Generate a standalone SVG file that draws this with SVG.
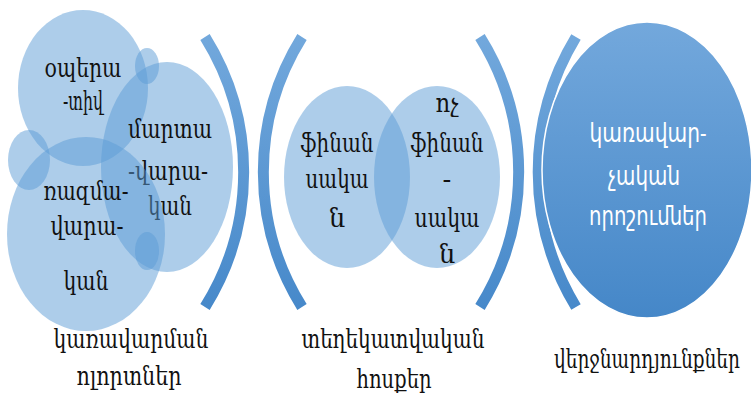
<svg xmlns="http://www.w3.org/2000/svg" width="751" height="397" viewBox="0 0 751 397">
<defs>
<linearGradient id="arcG" x1="0" y1="0" x2="0" y2="1">
<stop offset="0" stop-color="#72a8dc"/>
<stop offset="1" stop-color="#4789ca"/>
</linearGradient>
<linearGradient id="bigG" gradientUnits="userSpaceOnUse" x1="0" y1="22" x2="0" y2="318">
<stop offset="0" stop-color="#73a8dc"/>
<stop offset="1" stop-color="#4587c8"/>
</linearGradient>
<style>
.bub{fill:#5b9bd5;fill-opacity:0.5}
.arc{fill:none;stroke:url(#arcG);stroke-width:11;stroke-linecap:butt}
.t{font-family:"DejaVu Serif","Noto Sans",serif;font-size:26px;fill:#111;text-anchor:middle}
.w{font-family:"Noto Sans","DejaVu Sans",sans-serif;font-size:26px;fill:#fff;text-anchor:middle}
</style>
</defs>
<rect width="751" height="397" fill="#fff"/>
<g id="connectors">
<path class="arc" d="M205,37 A255,255 0 0 1 205,307"/>
<path class="arc" d="M302,37 A255,255 0 0 0 302,307"/>
<path class="arc" d="M480,37 A255,255 0 0 1 480,307"/>
<path class="arc" d="M576,37 A260,260 0 0 0 576,307"/>
</g>
<g id="node-operativ">
<ellipse class="bub" cx="83" cy="88" rx="65" ry="78"/>
<text class="t" x="83" y="77" textLength="77" lengthAdjust="spacingAndGlyphs">օպերա</text>
<text class="t" x="83" y="110" textLength="40" lengthAdjust="spacingAndGlyphs">-տիվ</text>
</g>
<g id="node-small1"><ellipse class="bub" cx="147" cy="66" rx="12" ry="18"/></g>
<g id="node-small2"><ellipse class="bub" cx="29" cy="160" rx="21" ry="30"/></g>
<g id="node-martavarakan">
<ellipse class="bub" cx="167" cy="167" rx="66" ry="105"/>
<text class="t" x="170" y="138" textLength="84" lengthAdjust="spacingAndGlyphs">մարտա</text>
<text class="t" x="168" y="180" textLength="80" lengthAdjust="spacingAndGlyphs">-վարա-</text>
<text class="t" x="170" y="215" textLength="44" lengthAdjust="spacingAndGlyphs">կան</text>
</g>
<g id="node-razmavarakan">
<ellipse class="bub" cx="86" cy="234" rx="79" ry="97"/>
<text class="t" x="86" y="200" textLength="85" lengthAdjust="spacingAndGlyphs">ռազմա-</text>
<text class="t" x="87" y="235" textLength="73" lengthAdjust="spacingAndGlyphs">վարա-</text>
<text class="t" x="86" y="290" textLength="45" lengthAdjust="spacingAndGlyphs">կան</text>
</g>
<g id="node-small3"><ellipse class="bub" cx="147" cy="251" rx="12" ry="19"/></g>
<g id="label-left">
<text class="t" x="131" y="348" textLength="155" lengthAdjust="spacingAndGlyphs">կառավարման</text>
<text class="t" x="129" y="385" textLength="105" lengthAdjust="spacingAndGlyphs">ոլորտներ</text>
</g>
<g id="node-finansakan">
<ellipse class="bub" cx="347" cy="177" rx="63" ry="91"/>
<text class="t" x="337" y="152" textLength="73" lengthAdjust="spacingAndGlyphs">ֆինան</text>
<text class="t" x="337" y="188" textLength="63" lengthAdjust="spacingAndGlyphs">սակա</text>
<text class="t" x="337" y="227">ն</text>
</g>
<g id="node-vochfinansakan">
<ellipse class="bub" cx="437" cy="177" rx="63" ry="91"/>
<text class="t" x="447" y="112" textLength="23" lengthAdjust="spacingAndGlyphs">ոչ</text>
<text class="t" x="447" y="152" textLength="73" lengthAdjust="spacingAndGlyphs">ֆինան</text>
<text class="t" x="447" y="188">-</text>
<text class="t" x="447" y="227" textLength="65" lengthAdjust="spacingAndGlyphs">սակա</text>
<text class="t" x="447" y="263">ն</text>
</g>
<g id="label-middle">
<text class="t" x="393" y="348" textLength="183" lengthAdjust="spacingAndGlyphs">տեղեկատվական</text>
<text class="t" x="394" y="388" textLength="75" lengthAdjust="spacingAndGlyphs">հոսքեր</text>
</g>
<g id="node-decisions">
<ellipse cx="647" cy="170" rx="105" ry="148" fill="url(#bigG)" stroke="#fff" stroke-width="1.5"/>
<text class="w" x="648" y="142" textLength="117" lengthAdjust="spacingAndGlyphs">կառավար-</text>
<text class="w" x="644" y="185" textLength="72" lengthAdjust="spacingAndGlyphs">չական</text>
<text class="w" x="648" y="225" textLength="118" lengthAdjust="spacingAndGlyphs">որոշումներ</text>
</g>
<g id="label-right">
<text class="t" x="647" y="368" textLength="186" lengthAdjust="spacingAndGlyphs">վերջնարդյունքներ</text>
</g>
</svg>
